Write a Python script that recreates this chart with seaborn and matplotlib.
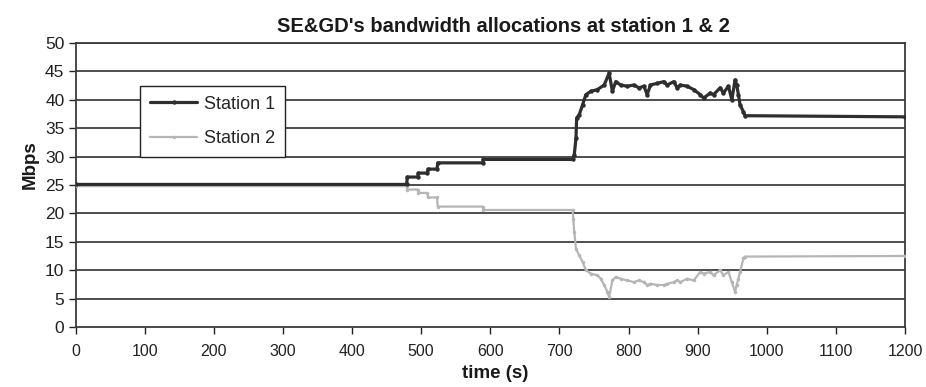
import matplotlib
matplotlib.use("Agg")
import matplotlib.pyplot as plt
import seaborn as sns
import pandas as pd

# ---- data ----
s1_time = [0, 479, 480, 495, 496, 509, 510, 523, 524, 589, 590, 719, 721.5, 724, 725,
           728.8, 733.5, 738.3, 745.5, 755, 764.8, 772, 776.7, 781.5, 788.7, 798.3,
           808, 815, 822.3, 827, 831.8, 841.4, 851, 855.8, 865.5, 870.3, 875, 884.7,
           894.3, 903.9, 908.7, 918.3, 923, 932.6, 937.4, 944.6, 949.5, 954.2, 956.6,
           959, 961.4, 966.3, 968.6, 1200]
s1_mbps = [25.1, 25.1, 26.4, 26.4, 27.1, 27.1, 27.8, 27.8, 28.9, 28.9, 29.5, 29.5, 30.3, 33.2, 36.8,
           37.4, 39.1, 40.9, 41.5, 41.8, 42.6, 44.7, 41.5, 43.2, 42.6, 42.4,
           42.6, 42.1, 42.4, 40.9, 42.6, 42.9, 43.2, 42.6, 43.2, 42.1, 42.6, 42.4,
           41.8, 40.9, 40.3, 41.2, 40.9, 42.1, 41.2, 42.4, 40.0, 43.5, 42.6,
           40.9, 39.1, 37.9, 37.2, 37.0]

s2_time = [0, 479, 480, 495, 496, 509, 510, 523, 524, 589, 590, 719, 720, 721.5, 724,
           728.8, 733.5, 738.3, 745.5, 755, 760, 764.8, 769.5, 772, 776.7, 781.5,
           788.7, 798.3, 808, 815, 822.3, 827, 831.8, 841.4, 851, 855.8, 865.5,
           870.3, 875, 884.7, 894.3, 903.9, 908.7, 918.3, 923, 932.6, 937.4, 944.6,
           949.5, 954.2, 956.6, 959, 961.4, 966.3, 968.6, 1200]
s2_mbps = [24.8, 24.8, 24.2, 24.2, 23.6, 23.6, 22.8, 22.8, 21.2, 21.2, 20.6, 20.6, 19.1, 16.8, 13.8,
           12.6, 11.5, 10.0, 9.4, 9.1, 8.5, 7.4, 6.2, 5.3, 8.2, 8.8,
           8.5, 8.2, 7.9, 8.2, 7.9, 7.4, 7.6, 7.4, 7.4, 7.6, 7.9,
           8.2, 7.9, 8.5, 8.2, 9.7, 9.4, 9.7, 9.1, 10.0, 9.1, 9.7,
           7.9, 6.2, 7.4, 8.5, 9.7, 12.1, 12.4, 12.5]

x_ticks = list(range(0, 1201, 100))
y_ticks = list(range(0, 51, 5))
title = "SE&GD's bandwidth allocations at station 1 & 2"

# ---- style ----
sns.set_theme(style="white")
FONT = ["Liberation Sans Narrow", "Liberation Sans", "DejaVu Sans"]
plt.rcParams["font.family"] = FONT

fig = plt.figure(figsize=(9.26, 3.87), dpi=100, facecolor="white")
ax = fig.add_axes([75.5 / 926, 1 - 327 / 387, (905 - 75.5) / 926, (327 - 43) / 387])
ax.set_facecolor("white")

df1 = pd.DataFrame({"time": s1_time, "Mbps": s1_mbps})
df2 = pd.DataFrame({"time": s2_time, "Mbps": s2_mbps})

sns.lineplot(data=df2, x="time", y="Mbps", ax=ax, sort=False, estimator=None,
             color="#b5b5b5", linewidth=1.6, marker="o", markersize=2.5,
             markeredgewidth=0, label="Station 2", zorder=3)
sns.lineplot(data=df1, x="time", y="Mbps", ax=ax, sort=False, estimator=None,
             color="#2e2e2e", linewidth=2.3, marker="o", markersize=3.2,
             markeredgewidth=0, label="Station 1", zorder=4)

ax.set_xlim(0, 1200)
ax.set_ylim(0, 50)
ax.set_xticks(x_ticks)
ax.set_yticks(y_ticks)
ax.set_xticklabels([str(v) for v in x_ticks])
ax.set_yticklabels([str(v) for v in y_ticks])
ax.tick_params(axis="both", which="major", colors="#222222",
               direction="out", length=5, width=1, bottom=True, left=True)
ax.tick_params(axis="x", pad=7, labelsize=11.5)
ax.tick_params(axis="y", pad=3, labelsize=12.5)

for y in y_ticks[1:]:
    ax.axhline(y, color="#404040", linewidth=1.3, zorder=1)

for side in ["left", "bottom", "right", "top"]:
    ax.spines[side].set_visible(True)
    ax.spines[side].set_color("#3a3a3a")
    ax.spines[side].set_linewidth(1.3)

ax.set_xlabel("")
ax.set_ylabel("")

handles, labels = ax.get_legend_handles_labels()
order = [labels.index("Station 1"), labels.index("Station 2")]
leg = ax.legend([handles[i] for i in order], [labels[i] for i in order],
                loc="upper left", bbox_to_anchor=(0.078, 0.849),
                frameon=True, fancybox=False, shadow=False, fontsize=13,
                handlelength=2.6, labelspacing=0.95, borderpad=0.55,
                handletextpad=0.4, borderaxespad=0)
leg.get_frame().set_edgecolor("#222222")
leg.get_frame().set_linewidth(1.0)
leg.get_frame().set_facecolor("white")
leg.get_frame().set_alpha(1)
leg.set_zorder(5)

fig.text(503 / 926, 1 - 27 / 387, title, ha="center", va="center",
         fontsize=14.5, fontweight="bold", color="#1a1a1a")
fig.text(30 / 926, 1 - 165 / 387, "Mbps", ha="center", va="center",
         rotation=90, fontsize=13.5, fontweight="bold", color="#1a1a1a")
fig.text(495 / 926, 1 - 373 / 387, "time (s)", ha="center", va="center",
         fontsize=13.5, fontweight="bold", color="#1a1a1a")

fig.savefig("out.png", dpi=100, facecolor="white")
